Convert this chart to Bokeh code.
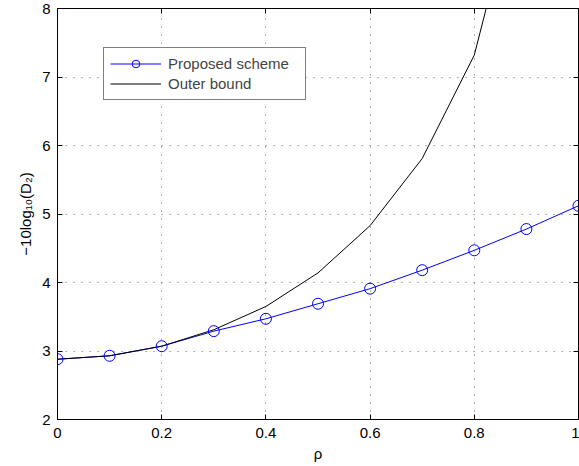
from bokeh.plotting import figure
from bokeh.models import LinearAxis, Legend, LegendItem, FixedTicker
from bokeh.embed import file_html
from bokeh.resources import INLINE

rho = [0.0, 0.1, 0.2, 0.3, 0.4, 0.5, 0.6, 0.7, 0.8, 0.9, 1.0]
proposed = [2.88, 2.93, 3.07, 3.29, 3.47, 3.69, 3.91, 4.18, 4.47, 4.78, 5.12]
outer = [2.88, 2.93, 3.07, 3.31, 3.65, 4.14, 4.83, 5.81, 7.32, 10.3, 14.5]
xticks = [0, 0.2, 0.4, 0.6, 0.8, 1]
xtick_labels = {0: "0", 0.2: "0.2", 0.4: "0.4", 0.6: "0.6", 0.8: "0.8", 1: "1"}
yticks = [2, 3, 4, 5, 6, 7, 8]

FONT = "Liberation Sans"

p = figure(width=579, height=466, x_range=(0, 1), y_range=(2, 8),
           output_backend="svg", toolbar_location=None,
           min_border_left=57, min_border_top=8, min_border_bottom=47, min_border_right=1,
           x_axis_label="ρ", y_axis_label="−10log₁₀(D₂)")
p.outline_line_color = "black"
p.outline_line_width = 1
p.background_fill_color = "white"
p.border_fill_color = "white"

for ax in (p.xaxis[0], p.yaxis[0]):
    ax.major_tick_in = 5
    ax.major_tick_out = 0
    ax.minor_tick_in = 0
    ax.minor_tick_out = 0
    ax.axis_line_color = "black"
    ax.major_tick_line_color = "black"
    ax.major_label_text_font = FONT
    ax.major_label_text_font_size = "15px"
    ax.major_label_text_color = "black"
    ax.axis_label_text_font = FONT
    ax.axis_label_text_font_size = "15px"
    ax.axis_label_text_font_style = "normal"
    ax.axis_label_text_color = "black"

p.xaxis[0].ticker = FixedTicker(ticks=xticks)
p.xaxis[0].major_label_overrides = xtick_labels
p.xaxis[0].major_label_standoff = 8
p.xaxis[0].axis_label_standoff = 4
p.yaxis[0].ticker = FixedTicker(ticks=yticks)
p.yaxis[0].major_label_standoff = 7
p.yaxis[0].axis_label_standoff = 5

for loc, ticks in (("right", yticks), ("above", xticks)):
    ax = LinearAxis(ticker=FixedTicker(ticks=ticks))
    ax.major_tick_in = 5
    ax.major_tick_out = 0
    ax.minor_tick_in = 0
    ax.minor_tick_out = 0
    ax.major_label_overrides = {t: "" for t in ticks}
    ax.major_label_standoff = 0
    ax.axis_line_color = "black"
    ax.major_tick_line_color = "black"
    p.add_layout(ax, loc)

for g in (p.xgrid[0], p.ygrid[0]):
    g.grid_line_color = "#666666"
    g.grid_line_dash = "1 7"
    g.grid_line_width = 1
p.xgrid[0].ticker = FixedTicker(ticks=xticks)
p.ygrid[0].ticker = FixedTicker(ticks=yticks)

l1 = p.line(rho, proposed, line_color="#0000ff", line_width=1)
l2 = p.line(rho, outer, line_color="black", line_width=1)
c1 = p.scatter(rho, proposed, marker="circle", size=11, fill_color=None,
               line_color="#0000ff", line_width=1)

legend = Legend(items=[LegendItem(label="Proposed scheme", renderers=[l1, c1]),
                       LegendItem(label="Outer bound", renderers=[l2])],
                location=(46, 319))
legend.border_line_color = "black"
legend.border_line_width = 1
legend.background_fill_color = "white"
legend.background_fill_alpha = 1
legend.label_text_font = FONT
legend.label_text_font_size = "15px"
legend.padding = 6
legend.spacing = 1
legend.margin = 0
legend.glyph_height = 19
legend.glyph_width = 51
legend.label_standoff = 7
legend.label_height = 19
legend.label_width = 131
p.add_layout(legend)

open("out.html", "w").write(file_html(p, INLINE))
